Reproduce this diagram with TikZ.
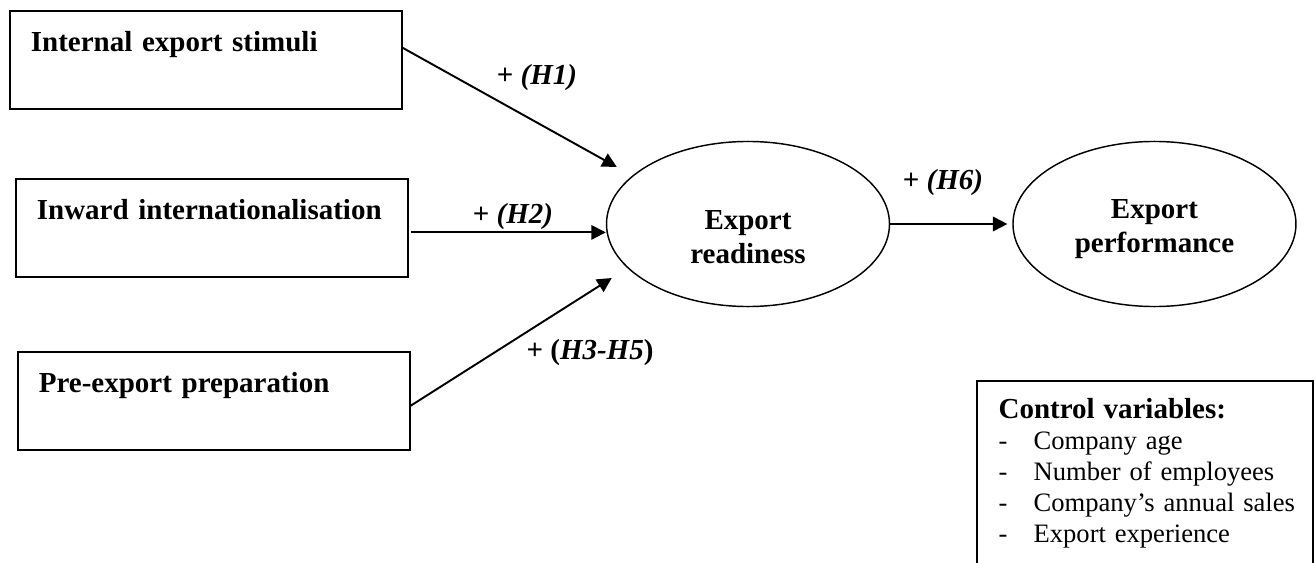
\documentclass[tikz,border=0pt]{standalone}
\usepackage{fontspec}
\setmainfont{Liberation Serif}
\usepackage{tikz}
\usetikzlibrary{arrows.meta, positioning, shapes.geometric, calc}

\begin{document}
\begin{tikzpicture}[
    x=0.4138pt, y=-0.4138pt,
    % Styles
    factor/.style={draw, line width=0.7pt, anchor=north west, align=left, text width=144.8pt, inner xsep=8.7pt, inner ysep=0pt, text height=17pt, text depth=23.6pt, font=\fontsize{12}{13.8}\selectfont\bfseries},
    construct/.style={draw, ellipse, line width=0.6pt, minimum width=117.1pt, minimum height=68.3pt, align=center, inner sep=0pt, font=\fontsize{12}{13.8}\selectfont\bfseries},
    hyp/.style={font=\fontsize{12}{13.8}\selectfont\bfseries, inner sep=0pt},
    link/.style={line width=0.8pt, -{Triangle[length=6pt, width=6pt]}},
    controlbox/.style={draw, line width=0.7pt, anchor=north west, align=left, text width=121pt, inner xsep=9pt, inner ysep=0pt, text height=15.7pt, text depth=200pt, font=\fontsize{11}{12.8}\selectfont},
    node distance=50.5pt
]
    \clip (0,0) rectangle (1316,563);

    % Antecedent boxes
    \node[factor] (stimuli) at (9,10) {Internal export stimuli};
    \node[factor] (inward) at (15,178) {Inward internationalisation};
    \node[factor] (preexport) at (17,351) {Pre-export preparation};

    % Export readiness
    \node[construct, text height=40pt, text depth=7.7pt] (readiness) at (748,224) {Export\\readiness};

    % Export performance
    \node[construct, right=of readiness, text height=30pt, text depth=6.8pt] (performance) {Export\\performance};

    % Control variables (box runs off the bottom)
    \node[controlbox] (controls) at (976,380) {\mbox{\fontsize{12}{12.8}\selectfont\bfseries Control variables:}\\
        \mbox{\makebox[14.5pt][l]{-}Company age}\\
        \mbox{\makebox[14.5pt][l]{-}Number of employees}\\
        \mbox{\makebox[14.5pt][l]{-}Company’s annual sales}\\
        \mbox{\makebox[14.5pt][l]{-}Export experience}};

    % Arrows
    \draw[link] ([yshift=5pt]stimuli.east) -- ($(readiness.west)+(11,-57)$);
    \draw[link] ($(inward.east)+(2,4.5)$) -- ($(inward.east -| readiness.west)+(0,4.5)$);
    \draw[link] ([yshift=-2pt]preexport.east) -- ($(readiness.west)+(6,54)$);
    \draw[link, shorten >=2pt] (readiness.east) -- (performance.west);

    % Hypothesis labels
    \node[hyp] (h1) at (537,78) {+ \textit{(H1)}};
    \node[hyp] (h2) at (513,217) {+ \textit{(H2)}};
    \node[hyp] (h3) at (590,353) {+ (\textit{H3-H5})};
    \node[hyp] (h6) at (943,183) {+ \textit{(H6)}};
\end{tikzpicture}
\end{document}
